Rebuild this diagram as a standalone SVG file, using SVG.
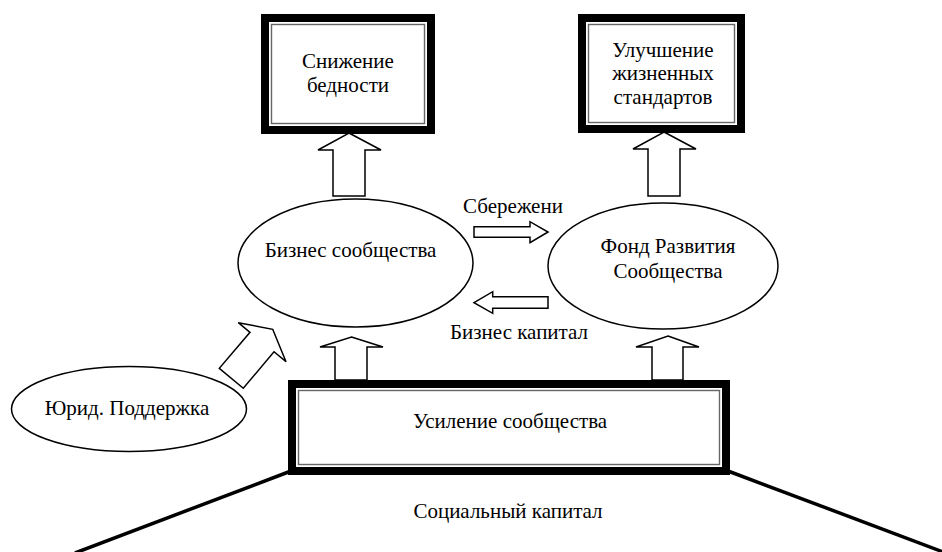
<svg xmlns="http://www.w3.org/2000/svg" width="942" height="552" viewBox="0 0 942 552">
<style>
text{font-family:"Liberation Serif","Times New Roman",serif;font-size:21px;fill:#000;text-anchor:middle}
.outer{fill:#fff;stroke:#000;stroke-width:8}
.inner{fill:none;stroke:#666;stroke-width:1.4}
.ell{fill:#fff;stroke:#000;stroke-width:1.5}
.barrow{fill:#fff;stroke:#000;stroke-width:1.5;stroke-linejoin:miter}
.base{stroke:#000;stroke-width:3.5;fill:none}
</style>
<rect width="942" height="552" fill="#fff"/>
<g id="base-lines">
<line class="base" x1="291" y1="471" x2="75" y2="553"/>
<line class="base" x1="728" y1="471" x2="946" y2="553"/>
</g>
<g id="connectors">
<polygon class="barrow" points="349,133 381,150 365,150 365,196 333,196 333,150 318,150"/>
<polygon class="barrow" points="664,132 696,149 680,149 680,196 648,196 648,149 633,149"/>
<polygon class="barrow" points="351.5,337 383,347 367,347 367,380 335,380 335,347 320,347"/>
<polygon class="barrow" points="668,336 699,347 683,347 683,380 652,380 652,347 636,347"/>
<polygon class="barrow" points="548,232 530,242.7 530,237.3 474,237.3 474,226.7 530,226.7 530,221.7"/>
<polygon class="barrow" points="474,302.7 492.7,291.7 492.7,296.7 548,296.7 548,308.3 492.7,308.3 492.7,313.3"/>
<polygon class="barrow" points="272.7,329.3 286,361.7 274,351.7 243.3,388.3 219.3,368.3 250,332.3 238.3,322.7"/>
</g>
<g id="node-poverty">
<rect class="outer" x="265" y="18" width="166" height="112"/>
<rect class="inner" x="271.5" y="24.5" width="153" height="99"/>
<text x="348" y="68">Снижение</text>
<text x="348" y="92">бедности</text>
</g>
<g id="node-living">
<rect class="outer" x="582" y="18" width="159" height="111"/>
<rect class="inner" x="588.5" y="24.5" width="146" height="98"/>
<text x="663" y="56.5">Улучшение</text>
<text x="663" y="80">жизненных</text>
<text x="663" y="103.5">стандартов</text>
</g>
<g id="node-business">
<ellipse class="ell" cx="355.5" cy="263" rx="117.5" ry="64"/>
<text x="350.5" y="257">Бизнес сообщества</text>
</g>
<g id="node-fund">
<ellipse class="ell" cx="663" cy="266" rx="115" ry="63"/>
<text x="668" y="252.5">Фонд Развития</text>
<text x="668" y="278">Сообщества</text>
</g>
<g id="node-legal">
<ellipse class="ell" cx="129" cy="409" rx="117.5" ry="42.5"/>
<text x="127" y="415">Юрид. Поддержка</text>
</g>
<g id="node-community">
<rect class="outer" x="292" y="384" width="434" height="87"/>
<rect class="inner" x="298.5" y="390.5" width="421" height="74"/>
<text x="510" y="428">Усиление сообщества</text>
</g>
<g id="labels">
<text x="513" y="213">Сбережени</text>
<text x="519" y="339">Бизнес капитал</text>
<text x="508" y="518">Социальный капитал</text>
</g>
</svg>
